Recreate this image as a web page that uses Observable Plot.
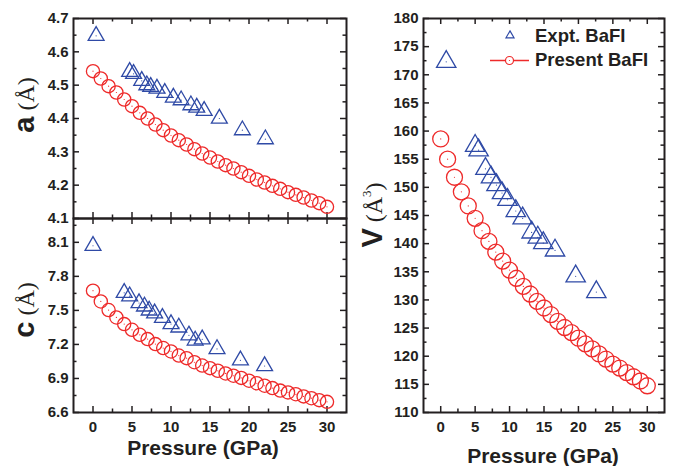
<!DOCTYPE html>
<html><head><meta charset="utf-8">
<script src="https://cdn.jsdelivr.net/npm/d3@7"></script>
<script src="https://cdn.jsdelivr.net/npm/@observablehq/plot@0.6"></script>
<style>
body{margin:0;background:#fff;}
#chart{position:relative;width:673px;height:466px;overflow:hidden;background:#fff;}
#chart > svg{position:absolute;}
</style></head>
<body><div id="chart"></div>
<script>
// ---- data ----
const pressure = [0,1,2,3,4,5,6,7,8,9,10,11,12,13,14,15,16,17,18,19,20,21,22,23,24,25,26,27,28,29,30];
const aPresent = [4.542,4.520,4.497,4.478,4.457,4.437,4.417,4.400,4.382,4.365,4.349,4.335,4.322,4.308,4.295,4.283,4.271,4.260,4.250,4.239,4.228,4.217,4.208,4.198,4.189,4.179,4.171,4.163,4.154,4.146,4.135];
const cPresent = [7.674,7.579,7.503,7.438,7.379,7.329,7.285,7.247,7.203,7.168,7.138,7.102,7.079,7.043,7.014,6.991,6.968,6.944,6.924,6.905,6.880,6.858,6.836,6.815,6.793,6.777,6.761,6.742,6.726,6.709,6.694];
const vPresent = [158.6,155.0,151.8,149.2,146.7,144.5,142.3,140.4,138.5,136.9,135.3,133.85,132.4,131.05,129.75,128.57,127.4,126.2,125.1,124.2,123.2,122.2,121.3,120.4,119.5,118.6,117.9,117.1,116.35,115.6,114.75];

const aExptP = [0.4,4.7,5.2,6.25,6.9,7.4,8.2,9.2,10.3,11.3,12.55,13.3,14.25,16.2,19.15,22.1];
const aExpt  = [4.648,4.540,4.534,4.513,4.500,4.495,4.490,4.477,4.463,4.455,4.440,4.433,4.423,4.400,4.365,4.338];
const cExptP = [0,4.0,4.7,5.9,6.6,7.2,7.9,8.9,10.0,11.0,12.3,13.1,14.0,15.9,18.9,22.0];
const cExpt  = [8.07,7.655,7.625,7.565,7.535,7.500,7.475,7.435,7.380,7.350,7.280,7.235,7.245,7.160,7.060,7.010];
const vExptP = [0.8,5.0,5.5,6.5,7.3,8.1,8.9,9.7,10.9,11.9,13.2,14.1,14.9,16.6,19.6,22.6];
const vExpt  = [172.3,157.4,156.6,153.3,151.8,150.4,149.0,147.8,145.8,144.5,142.0,141.1,140.1,138.8,134.2,131.4];

const xMajor = [0,5,10,15,20,25,30];
const xMinor = [2.5,7.5,12.5,17.5,22.5,27.5];
const aMajor = [4.1,4.2,4.3,4.4,4.5,4.6,4.7];
const aMinor = [4.15,4.25,4.35,4.45,4.55,4.65];
const cMajor = [6.6,6.9,7.2,7.5,7.8,8.1];
const cMinor = [6.75,7.05,7.35,7.65,7.95,8.25];
const vMajor = [110,115,120,125,130,135,140,145,150,155,160,165,170,175,180];
const vMinor = [112.5,117.5,122.5,127.5,132.5,137.5,142.5,147.5,152.5,157.5,162.5,167.5,172.5,177.5];

const seriesNames = ["Expt. BaFI", "Present BaFI"];
const xTitle = "Pressure (GPa)";

// ---- style ----
const ink = "#231f20", blue = "#2f4aa6", red = "#ee2a2a";
const sans = "'Liberation Sans', Arial, sans-serif";
const serif = "'Liberation Serif', 'Times New Roman', serif";

function panel(o) {
  const fw = o.width - o.ml - o.mr, fh = o.height - o.mt - o.mb;
  const pres = pressure.map((p, i) => ({p, v: o.presY[i]}));
  const ex = o.exP.map((p, i) => ({p, v: o.exY[i]}));
  const Lmaj = 6, Lmin = 3.5, sw = 1.5;
  const marks = [
    Plot.ruleX(xMajor, {x: d => d, insetTop: fh - Lmaj, stroke: ink, strokeWidth: sw}),
    Plot.ruleX(xMinor, {x: d => d, insetTop: fh - Lmin, stroke: ink, strokeWidth: sw}),
    Plot.ruleX(xMajor, {x: d => d, insetBottom: fh - Lmaj, stroke: ink, strokeWidth: sw}),
    Plot.ruleX(xMinor, {x: d => d, insetBottom: fh - Lmin, stroke: ink, strokeWidth: sw}),
    Plot.ruleY(o.yMajor, {y: d => d, insetRight: fw - Lmaj, stroke: ink, strokeWidth: sw}),
    Plot.ruleY(o.yMinor, {y: d => d, insetRight: fw - Lmin, stroke: ink, strokeWidth: sw}),
    Plot.ruleY(o.yMajor, {y: d => d, insetLeft: fw - Lmaj, stroke: ink, strokeWidth: sw}),
    Plot.ruleY(o.yMinor, {y: d => d, insetLeft: fw - Lmin, stroke: ink, strokeWidth: sw}),
    Plot.axisY({ticks: o.yMajor, tickFormat: d3.format(o.yFmt), tickSize: 0, tickPadding: 5, fontSize: 15, fontWeight: "bold", label: null, fill: ink}),
    o.xLabels ? Plot.axisX({ticks: xMajor, tickFormat: d3.format("d"), tickSize: 0, tickPadding: 9, fontSize: 15, fontWeight: "bold", label: null, fill: ink}) : null,
    Plot.dot(pres, {x: "p", y: "v", r: o.r, stroke: red, strokeWidth: 1.3, fill: "none"}),
    Plot.dot(pres, {x: "p", y: "v", r: 0.6, fill: red}),
    Plot.dot(ex, {x: "p", y: "v", symbol: "triangle", r: o.tr, stroke: blue, strokeWidth: 1.3, fill: "none"}),
    Plot.dot(ex, {x: "p", y: "v", r: 0.6, fill: blue}),
    Plot.frame({stroke: ink, strokeWidth: 2})
  ].filter(Boolean);
  const svg = Plot.plot({
    width: o.width, height: o.height,
    marginTop: o.mt, marginBottom: o.mb, marginLeft: o.ml, marginRight: o.mr,
    x: {domain: [-2.5, 32.5], axis: null, label: null},
    y: {domain: o.yDomain, axis: null, label: null},
    style: {fontFamily: sans, color: ink, background: "none", overflow: "visible"},
    marks
  });
  svg.style.left = o.left + "px";
  svg.style.top = o.top + "px";
  return svg;
}

const chart = document.getElementById("chart");
chart.append(panel({left: 0, top: 0, width: 360, height: 230, mt: 18, mb: 12, ml: 73, mr: 14,
  yDomain: [4.1, 4.7], yMajor: aMajor, yMinor: aMinor, yFmt: ".1f", xLabels: false,
  presY: aPresent, exP: aExptP, exY: aExpt, r: 6.6, tr: 5.9}));
chart.append(panel({left: 0, top: 200, width: 360, height: 266, mt: 18, mb: 54, ml: 73, mr: 14,
  yDomain: [6.6, 8.31], yMajor: cMajor, yMinor: cMinor, yFmt: ".1f", xLabels: true,
  presY: cPresent, exP: cExptP, exY: cExpt, r: 6.6, tr: 5.9}));
chart.append(panel({left: 360, top: 0, width: 313, height: 466, mt: 18, mb: 54, ml: 63, mr: 9,
  yDomain: [110, 180], yMajor: vMajor, yMinor: vMinor, yFmt: "d", xLabels: true,
  presY: vPresent, exP: vExptP, exY: vExpt, r: 8, tr: 7.2}));

// ---- overlay: axis titles and legend ----
const ov = d3.create("svg").attr("width", 673).attr("height", 466)
  .style("left", "0px").style("top", "0px").style("pointer-events", "none");

function ylab(x, y, letter, cube) {
  const t = ov.append("text").attr("transform", `translate(${x},${y}) rotate(-90)`)
    .attr("text-anchor", "middle").attr("fill", ink);
  t.append("tspan").attr("font-family", sans).attr("font-weight", "bold").attr("font-size", 29).text(letter);
  t.append("tspan").attr("font-family", serif).attr("font-size", 24).text(" (Å");
  if (cube) {
    t.append("tspan").attr("font-family", serif).attr("font-size", 13).attr("dy", -11).text("3");
    t.append("tspan").attr("font-family", serif).attr("font-size", 24).attr("dy", 11).text(")");
  } else {
    t.append("tspan").attr("font-family", serif).attr("font-size", 24).text(")");
  }
}
ylab(34, 105, "a", false);
ylab(34, 310, "c", false);
ylab(382, 215, "V", true);

ov.append("text").attr("x", 203).attr("y", 455).attr("text-anchor", "middle")
  .attr("font-family", sans).attr("font-weight", "bold").attr("font-size", 21).attr("fill", ink).text(xTitle);
ov.append("text").attr("x", 543).attr("y", 463).attr("text-anchor", "middle")
  .attr("font-family", sans).attr("font-weight", "bold").attr("font-size", 21).attr("fill", ink).text(xTitle);

// legend
ov.append("path").attr("d", d3.symbol(d3.symbolTriangle, 28)()).attr("transform", "translate(510,35.5)")
  .attr("fill", "none").attr("stroke", blue).attr("stroke-width", 1.2);
ov.append("line").attr("x1", 490).attr("x2", 529).attr("y1", 60.5).attr("y2", 60.5).attr("stroke", red).attr("stroke-width", 1.5);
ov.append("circle").attr("cx", 509.5).attr("cy", 60.5).attr("r", 4).attr("fill", "#fff").attr("stroke", red).attr("stroke-width", 1.2);
ov.append("circle").attr("cx", 509.5).attr("cy", 60.5).attr("r", 0.6).attr("fill", red);
ov.append("text").attr("x", 535).attr("y", 41.5).attr("font-family", sans).attr("font-weight", "bold")
  .attr("font-size", 18.5).attr("fill", ink).text(seriesNames[0]);
ov.append("text").attr("x", 535).attr("y", 65.5).attr("font-family", sans).attr("font-weight", "bold")
  .attr("font-size", 18.5).attr("fill", ink).text(seriesNames[1]);

chart.append(ov.node());
</script>
</body></html>
